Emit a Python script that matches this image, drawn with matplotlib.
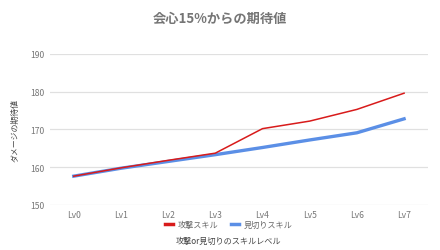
import matplotlib
matplotlib.use("Agg")
import matplotlib.pyplot as plt

plt.rcParams['font.family'] = ['Noto Sans CJK JP', 'DejaVu Sans']

levels = ["Lv0", "Lv1", "Lv2", "Lv3", "Lv4", "Lv5", "Lv6", "Lv7"]
attack = [157.6, 159.8, 161.8, 163.7, 170.2, 172.2, 175.3, 179.6]
mikiri = [157.6, 159.7, 161.5, 163.3, 165.2, 167.2, 169.1, 172.8]

fig = plt.figure(figsize=(4.4, 2.51), dpi=100)
ax = fig.add_axes([0.114, 0.18, 0.858, 0.601])

x = range(len(levels))
ax.plot(x, attack, color="#d81b1b", lw=1.1, label="攻撃スキル", zorder=3)
ax.plot(x, mikiri, color="#5b8fe6", lw=2.4, label="見切りスキル", zorder=2)

ax.set_xlim(-0.5, 7.5)
ax.set_ylim(150, 190)
ax.set_yticks([150, 160, 170, 180, 190])
ax.set_xticks(list(x))
ax.set_xticklabels(levels)
ax.grid(axis="y", color="#e0e0e0", lw=0.9)
ax.set_axisbelow(True)
for s in ax.spines.values():
    s.set_visible(False)
ax.tick_params(length=0, labelsize=6.2, colors="#777777", pad=4)

fig.text(0.5, 0.925, "会心15%からの期待値", ha="center", va="center",
         fontsize=9.5, fontweight="bold", color="#757575")
fig.text(0.035, 0.48, "ダメージの期待値", rotation=90, ha="center", va="center",
         fontsize=5.7, color="#444444")
fig.text(0.52, 0.04, "攻撃or見切りのスキルレベル", ha="center", va="center",
         fontsize=5.9, color="#444444")

fig.legend(loc="center", bbox_to_anchor=(0.52, 0.103), ncol=2, frameon=False,
           fontsize=5.9, handlelength=1.0, handletextpad=0.6, columnspacing=1.5,
           labelcolor="#666666")
leg = fig.legends[0]
for h in leg.get_lines():
    h.set_linewidth(2.5)

fig.savefig("out.png", dpi=100, facecolor="white")
